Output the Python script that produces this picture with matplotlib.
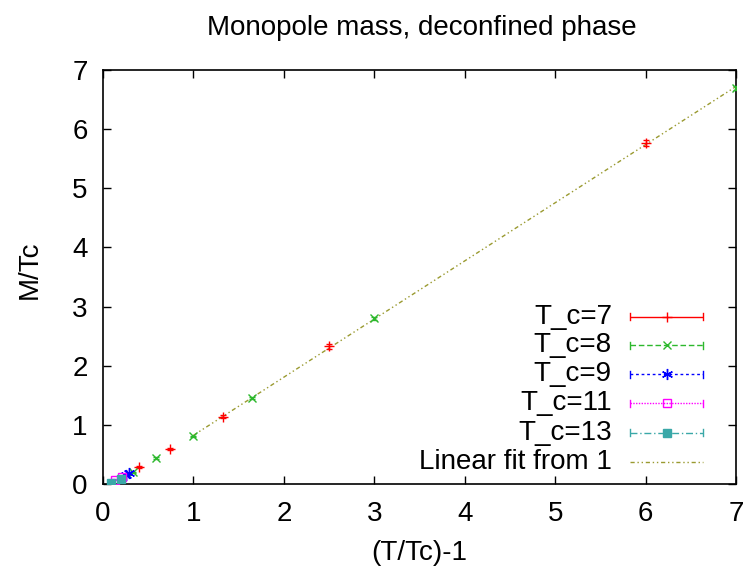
import matplotlib
matplotlib.use("Agg")
import matplotlib.pyplot as plt
import numpy as np

plt.rcParams['font.family'] = ['Liberation Sans', 'DejaVu Sans']

# ---- data ----
x7 = [0.40, 0.74, 1.33, 2.50, 6.00]
y7 = [0.29, 0.59, 1.14, 2.33, 5.76]
e7 = [0.02, 0.02, 0.02, 0.04, 0.05]

x8 = [0.33, 0.59, 1.00, 1.65, 3.00, 7.00]
y8 = [0.20, 0.44, 0.81, 1.45, 2.80, 6.70]
e8 = [0.01, 0.01, 0.01, 0.02, 0.02, 0.03]

x9 = [0.25, 0.29]
y9 = [0.15, 0.18]
e9 = [0.01, 0.01]

x11 = [0.13, 0.21]
y11 = [0.07, 0.12]
e11 = [0.01, 0.01]

x13 = [0.09, 0.20]
y13 = [0.02, 0.08]
e13 = [0.005, 0.01]

fit_slope = 0.983
fit_intercept = -0.16
fit_x = [1.0, 7.0]

labels = ["T_c=7", "T_c=8", "T_c=9", "T_c=11", "T_c=13", "Linear fit from 1"]
title = "Monopole mass, deconfined phase"
xlabel = "(T/Tc)-1"
ylabel = "M/Tc"
xticks = [0, 1, 2, 3, 4, 5, 6, 7]
yticks = [0, 1, 2, 3, 4, 5, 6, 7]

# ---- styles ----
c7, c8, c9, c11, c13, cfit = "#ff0000", "#2db82d", "#0000ff", "#ff00ff", "#3aa8a8", "#9a9a30"
FS = 20

fig = plt.figure(figsize=(7.5, 5.72), dpi=100)
ax = fig.add_axes([103/750, 1-484/572, (736-103)/750, (484-70)/572])

series = [
    (x7, y7, e7, c7, '+', 'none', (0, ()), 7),
    (x8, y8, e8, c8, 'x', 'none', (0, (4, 2)), 6),
    (x9, y9, e9, c9, (6, 2, 0), 'none', (0, (2, 2)), 8),
    (x11, y11, e11, c11, 's', 'none', (0, (1, 1)), 6),
    (x13, y13, e13, c13, 's', 'full', (0, (5, 2, 1, 2)), 6),
]

for (xs, ys, es, col, mk, fill, ls, ms) in series:
    mfc = col if fill == 'full' else 'none'
    ax.errorbar(xs, ys, yerr=es, fmt='none', ecolor=col,
                elinewidth=1.0, capsize=2.5, capthick=1.0, zorder=3)
    ax.plot(xs, ys, ls='none', marker=mk, color=col, mfc=mfc, mec=col,
            ms=ms, mew=1.0, zorder=4)

xf = np.array(fit_x)
ax.plot(xf, fit_slope*xf + fit_intercept, color=cfit, lw=1.0,
        ls=(0, (3, 2, 1, 2, 1, 2)), zorder=2)

ax.set_xlim(0, 7)
ax.set_ylim(0, 7)
ax.set_xticks(xticks)
ax.set_yticks(yticks)
ax.tick_params(direction='in', length=6, width=1, top=True, right=True,
               labelsize=FS, colors='black')
ax.tick_params(axis='x', pad=12)
ax.tick_params(axis='y', pad=11)
for s in ax.spines.values():
    s.set_linewidth(1.2)

fig.text(0.5*(209+634)/750, 1-28/572, title, ha='center', va='center', fontsize=FS)
fig.text((103+736)/2/750, 1-553/572, xlabel, ha='center', va='center', fontsize=FS)
fig.text(30/750, 1-270/572, ylabel, ha='center', va='center', rotation=90, fontsize=FS)

# ---- gnuplot-style key ----
def ax_x(px):
    return (px-103)/633
def ax_y(py):
    return (484-py)/414

row_y = [316.7, 345.3, 374.0, 403.0, 432.5, 461.7]
x0, x1, xm = 630, 703, 666.5
tr = ax.transAxes
cap = 3.5
for i, (xs, ys, es, col, mk, fill, ls, ms) in enumerate(series):
    py = row_y[i]
    ax.plot([ax_x(x0), ax_x(x1)], [ax_y(py), ax_y(py)], color=col, lw=1.0, ls=ls,
            transform=tr, clip_on=False)
    for px in (x0, x1):
        ax.plot([ax_x(px), ax_x(px)], [ax_y(py-cap), ax_y(py+cap)], color=col, lw=1.0,
                transform=tr, clip_on=False)
    mfc = col if fill == 'full' else 'none'
    ax.plot([ax_x(xm)], [ax_y(py)], marker=mk, color=col, mfc=mfc, mec=col, ms=ms, mew=1.0,
            transform=tr, clip_on=False, ls='none')
    ax.text(ax_x(612), ax_y(py), labels[i], transform=tr, ha='right', va='center', fontsize=FS)

py = row_y[5]
ax.plot([ax_x(x0), ax_x(x1)], [ax_y(py), ax_y(py)], color=cfit, lw=1.0,
        ls=(0, (3, 2, 1, 2, 1, 2)), transform=tr, clip_on=False)
ax.text(ax_x(612), ax_y(py), labels[5], transform=tr, ha='right', va='center', fontsize=FS)

fig.savefig("out.png", dpi=100)
